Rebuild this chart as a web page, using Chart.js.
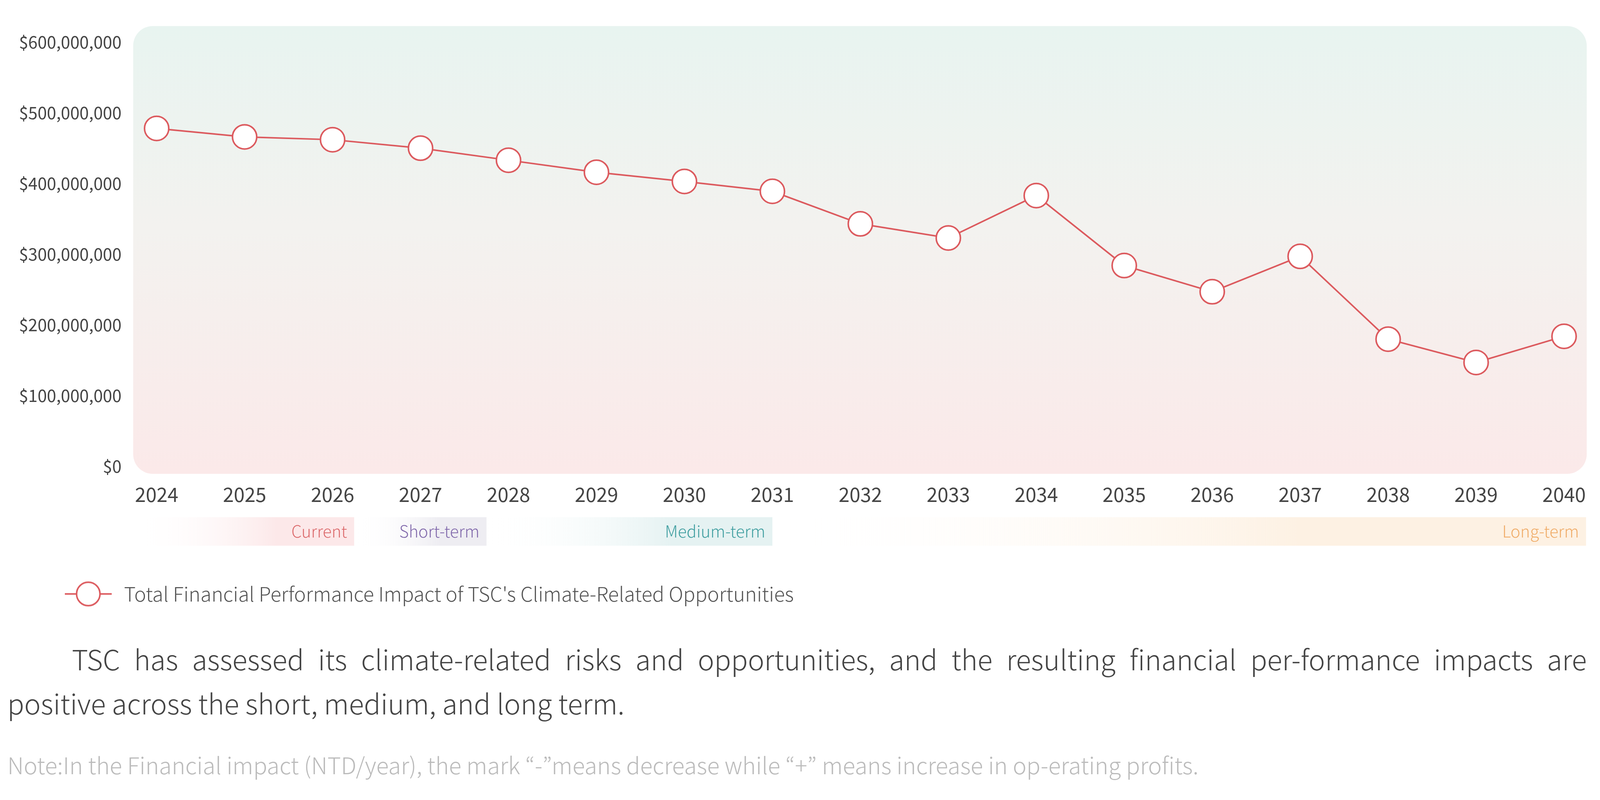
<!DOCTYPE html>
<html lang="en">
<head>
  <meta charset="UTF-8">
  <title>Total Financial Performance Impact of TSC's Climate-Related Opportunities</title>
  <script src="https://cdn.jsdelivr.net/npm/chart.js"></script>
  <style>
    html, body {
      margin: 0;
      padding: 0;
      background: #fff;
      overflow: hidden;
      font-family: "Noto Sans CJK JP", "Noto Sans", sans-serif;
    }
    #wrap {
      position: relative;
      width: 4096px;
      height: 2048px;
    }
    canvas {
      display: block;
    }
    .para {
      position: absolute;
      left: 19px;
      top: 1629px;
      width: 4043px;
      margin: 0;
      font-size: 71px;
      line-height: 113px;
      font-weight: 300;
      color: #444;
    }
    .para .first {
      text-indent: 165px;
      text-align: justify;
      text-align-last: justify;
    }
    .note {
      position: absolute;
      left: 19px;
      top: 1922px;
      margin: 0;
      font-size: 59px;
      line-height: 70px;
      font-weight: 300;
      color: #bbb;
      white-space: nowrap;
    }
  </style>
</head>
<body>
<div id="wrap">
  <canvas id="myChart" width="4096" height="1556"></canvas>
  <div class="para">
    <div class="first">TSC has assessed its climate-related risks and opportunities, and the resulting financial per-formance impacts are</div>
    <div>positive across the short, medium, and long term.</div>
  </div>
  <p class="note">Note:In the Financial impact (NTD/year), the mark “-”means decrease while “+” means increase in op-erating profits.</p>
</div>

<script>
// data
const years = ['2024', '2025', '2026', '2027', '2028', '2029', '2030', '2031', '2032',
               '2033', '2034', '2035', '2036', '2037', '2038', '2039', '2040'];
const impact = [478000000, 466000000, 462000000, 450000000, 433000000, 416000000, 403000000, 389000000, 343000000,
                323000000, 383000000, 284000000, 247000000, 297000000, 180000000, 147000000, 184000000];
const seriesName = "Total Financial Performance Impact of TSC's Climate-Related Opportunities";
const yTicks = [0, 100000000, 200000000, 300000000, 400000000, 500000000, 600000000];

// time horizons under the axis (bounds in years)
const periodNames = ['Current', 'Short-term', 'Medium-term', 'Long-term'];
const periodBounds = [2023.73, 2026.245, 2027.75, 2031, 2040.25];
const periodFill = ['#fce8e9', '#eeedf2', '#e5f2f2', '#fdf1e3'];
const periodText = ['#dc6a6c', '#8068ab', '#3f9ea0', '#f0ac68'];

const FONT = '"Noto Sans CJK JP", "Noto Sans", sans-serif';
const lineColor = '#dc5a5e';

// legend marker: short line with a hollow circle
function legendMarker() {
  const c = document.createElement('canvas');
  c.width = 282;
  c.height = 70;
  const g = c.getContext('2d');
  g.strokeStyle = lineColor;
  g.lineWidth = 4;
  g.beginPath();
  g.moveTo(156, 35);
  g.lineTo(276, 35);
  g.stroke();
  g.beginPath();
  g.arc(216, 35, 30, 0, Math.PI * 2);
  g.fillStyle = '#fff';
  g.fill();
  g.stroke();
  return c;
}
const marker = legendMarker();

const backdrop = {
  id: 'backdrop',
  beforeDraw(chart) {
    const {ctx, chartArea: a} = chart;
    const x0 = a.left - 60, x1 = a.right + 58, y0 = a.top - 41, y1 = a.bottom + 19;
    const grad = ctx.createLinearGradient(0, y0, 0, y1);
    grad.addColorStop(0, '#e8f4f0');
    grad.addColorStop(0.45, '#f3f2ef');
    grad.addColorStop(1, '#fbe9e9');
    ctx.save();
    ctx.fillStyle = grad;
    ctx.beginPath();
    ctx.roundRect(x0, y0, x1 - x0, y1 - y0, 50);
    ctx.fill();
    ctx.restore();
  }
};

const periods = {
  id: 'periods',
  afterDraw(chart) {
    const {ctx, chartArea: a} = chart;
    const xs = chart.scales.x;
    const y0 = a.bottom + 130, h = 73;
    ctx.save();
    for (let i = 0; i < periodNames.length; i++) {
      const left = xs.getPixelForValue(periodBounds[i] - 2024);
      const right = xs.getPixelForValue(periodBounds[i + 1] - 2024);
      const grad = ctx.createLinearGradient(left, 0, right, 0);
      grad.addColorStop(0, 'rgba(255,255,255,0)');
      grad.addColorStop(0.65, periodFill[i]);
      grad.addColorStop(1, periodFill[i]);
      ctx.fillStyle = grad;
      ctx.fillRect(left, y0, right - left, h);
      ctx.fillStyle = periodText[i];
      ctx.font = '300 42px ' + FONT;
      ctx.textAlign = 'right';
      ctx.textBaseline = 'middle';
      ctx.fillText(periodNames[i], right - 18, y0 + h / 2);
    }
    ctx.restore();
  }
};

const config = {
  type: 'line',
  data: {
    labels: years,
    datasets: [{
      label: seriesName,
      data: impact,
      borderColor: lineColor,
      borderWidth: 4,
      pointRadius: 31,
      pointHoverRadius: 31,
      pointBorderWidth: 4,
      pointBackgroundColor: '#fff',
      pointBorderColor: lineColor,
      pointStyle: 'circle',
      tension: 0,
      clip: false
    }]
  },
  options: {
    responsive: false,
    animation: false,
    devicePixelRatio: 1,
    layout: {
      padding: {top: 101, right: 92, left: 0, bottom: 0}
    },
    scales: {
      x: {
        offset: false,
        grid: {display: false},
        border: {display: false},
        ticks: {
          color: '#444',
          padding: 34,
          font: {family: FONT, size: 50}
        },
        afterFit(scale) {
          scale.height = 291;
        }
      },
      y: {
        min: 0,
        max: 600000000,
        grid: {display: false},
        border: {display: false},
        afterBuildTicks(scale) {
          scale.ticks = yTicks.map(v => ({value: v}));
        },
        afterFit(scale) {
          scale.width = 401;
        },
        ticks: {
          color: '#444',
          padding: 82,
          font: {family: FONT, size: 43},
          callback: v => '$' + Number(v).toLocaleString('en-US')
        }
      }
    },
    plugins: {
      legend: {
        position: 'bottom',
        align: 'start',
        labels: {
          usePointStyle: true,
          pointStyleWidth: 282,
          padding: 10,
          color: '#555',
          font: {family: FONT, size: 51, weight: 300},
          generateLabels(chart) {
            return chart.data.datasets.map((ds, i) => ({
              text: ds.label,
              pointStyle: marker,
              fillStyle: '#fff',
              strokeStyle: lineColor,
              lineWidth: 4,
              fontColor: '#555',
              datasetIndex: i,
              hidden: false
            }));
          }
        }
      },
      tooltip: {enabled: false}
    }
  },
  plugins: [backdrop, periods]
};

const ctx = document.getElementById('myChart').getContext('2d');
new Chart(ctx, config);
</script>
</body>
</html>
